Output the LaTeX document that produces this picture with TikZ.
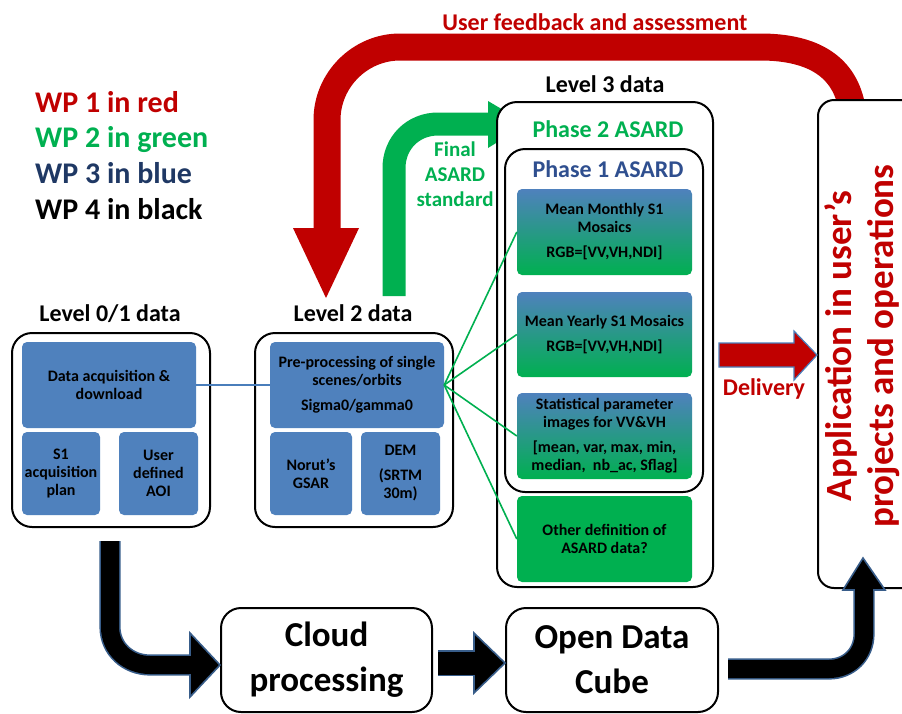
\documentclass[tikz,border=0pt]{standalone}
\usepackage{fontspec}
\setmainfont{Carlito}
\usetikzlibrary{calc,shadings}

\definecolor{wpred}{HTML}{C00000}
\definecolor{wpgreen}{HTML}{00B050}
\definecolor{wpnavy}{HTML}{1F3864}
\definecolor{phaseblue}{HTML}{2F4F8F}
\definecolor{boxblue}{HTML}{4F81BD}
\definecolor{linkblue}{HTML}{4A7EBB}
\definecolor{arrowedge}{HTML}{385D8A}

\newcommand{\mysz}[2]{\fontsize{#1}{#2}\selectfont\bfseries}

\begin{document}
\begin{tikzpicture}[x=1pt,y=-1pt,
  group/.style={draw=black, line width=2pt, rounded corners=20pt, fill=white},
  bluebox/.style={fill=boxblue, rounded corners=5pt, align=center, inner sep=2pt, font=\mysz{16}{18}},
  gradbox/.style={top color=boxblue, bottom color=wpgreen, rounded corners=5pt, align=center, inner sep=2pt, font=\mysz{16}{18}},
  greenbox/.style={fill=wpgreen, rounded corners=5pt, align=center, inner sep=2pt, font=\mysz{16}{18}},
  lbl/.style={inner sep=0pt, font=\mysz{24}{28}},
  legend/.style={inner sep=0pt, anchor=base west, font=\mysz{30}{34}},
  bigbox/.style={draw=black, line width=2pt, rounded corners=20pt, fill=white, align=center, font=\mysz{35}{45}},
  fanline/.style={draw=wpgreen, line width=1.6pt},
  blackshaft/.style={draw=arrowedge, line width=1.6pt, double=black, double distance=#1},
  blackhead/.style={fill=black, draw=arrowedge, line width=1.6pt, line join=miter}
]
\useasboundingbox (0,0) rectangle (902,713);
\clip (0,0) rectangle (902,713);

% ---------- legend ----------
\node[legend, text=wpred]   (wp1) at (35,112) {WP 1 in red};
\node[legend, text=wpgreen] (wp2) at (35,147) {WP 2 in green};
\node[legend, text=wpnavy]  (wp3) at (35,183) {WP 3 in blue};
\node[legend, text=black]   (wp4) at (35,219) {WP 4 in black};

% ---------- user feedback loop (drawn before the application box) ----------
\node[lbl, anchor=base, text=wpred] (fbtext) at (595,30) {User feedback and assessment};
\coordinate (fbstart) at (852,108);
\coordinate (fbtip) at (326,298);
\draw[wpred, line width=27pt] (fbstart) .. controls (845,68) and (815,47) .. (760,47)
  -- (400,47) .. controls (360,47) and (327,80) .. (327,120) -- (327,229);
\fill[wpred] (293,228) -- (fbtip) -- (359,228) -- cycle;

% ---------- level 0/1 ----------
\node[lbl, anchor=base] (lab01) at (110,321) {Level 0/1 data};
\node[group, minimum width=198, minimum height=194] (lvl01) at (111,430) {};
\node[bluebox, minimum width=174, minimum height=86] (acq) at (109,385) {Data acquisition \&\\download};
\node[bluebox, minimum width=78, minimum height=83] (plan) at (61,473.5) {S1\\acquisition\\plan};
\node[bluebox, minimum width=79, minimum height=83] (aoi) at (158.5,473.5) {User\\defined\\AOI};

% ---------- level 2 ----------
\node[lbl, anchor=base] (lab2) at (353,321) {Level 2 data};
\node[group, minimum width=198, minimum height=194] (lvl2) at (354,430) {};
\node[bluebox, minimum width=174, minimum height=86] (pre) at (357,385) {Pre-processing of single\\scenes/orbits\\[7pt]Sigma0/gamma0};
\node[bluebox, minimum width=82, minimum height=83] (gsar) at (311,473.5) {Norut’s\\GSAR};
\node[bluebox, minimum width=79, minimum height=83] (dem) at (400.5,473.5) {DEM\\[7pt](SRTM\\30m)};

\draw[linkblue, line width=1.6pt] (acq.east) -- (pre.west);

% ---------- final ASARD standard arrow ----------
\coordinate (gstart) at (394,296);
\coordinate (gtip) at (527,124);
\draw[wpgreen, line width=23pt] (gstart) -- (394,168) .. controls (394,143) and (413,124) .. (438,124) -- (489,124);
\fill[wpgreen] (488,101) -- (gtip) -- (488,148) -- cycle;
\node[inner sep=0pt, align=center, text=wpgreen, font=\mysz{21}{25}] (final) at (455,174) {Final\\ASARD\\standard};

% ---------- level 3 ----------
\node[lbl, anchor=base] (lab3) at (605,92) {Level 3 data};
\node[group, minimum width=216, minimum height=485] (lvl3) at (605,344.5) {};
\node[lbl, anchor=base, text=wpgreen] (ph2) at (608,137) {Phase 2 ASARD};
\node[group, minimum width=198, minimum height=343] (phase1) at (604,320.5) {};
\node[lbl, anchor=base, text=phaseblue] (ph1) at (608,177) {Phase 1 ASARD};

\node[gradbox, minimum width=175, minimum height=86] (monthly) at (604.5,232) {Mean Monthly S1\\Mosaics\\[7pt]RGB=[VV,VH,NDI]};
\node[gradbox, minimum width=175, minimum height=85] (yearly) at (604.5,334.5) {Mean Yearly S1 Mosaics\\[7pt]RGB=[VV,VH,NDI]};
\node[gradbox, minimum width=175, minimum height=86] (stats) at (604.5,436) {Statistical parameter\\images for VV\&VH\\[7pt]{[}mean, var, max, min,\\median,\ \ nb\_ac, Sflag{]}};
\node[greenbox, minimum width=175, minimum height=86] (other) at (604.5,539) {Other definition of\\ASARD data?};

\draw[fanline] (pre.east) -- (monthly.west);
\draw[fanline] (pre.east) -- (yearly.west);
\draw[fanline] (pre.east) -- (stats.west);
\draw[fanline] (pre.east) -- (other.west);

% ---------- application box ----------
\node[draw=black, line width=2pt, rounded corners=16pt, fill=white, minimum width=102, minimum height=488] (app) at (869,344) {};
\node[rotate=90, inner sep=0pt, align=center, text=wpred, font=\mysz{37}{42}] (apptext) at (862,346) {Application in user’s\\projects and operations};

% ---------- delivery arrow ----------
\coordinate (ds) at ($(lvl3.east)+(5,10.5)$);
\coordinate (dt) at ($(app.west)+(0,11)$);
\fill[wpred, draw=linkblue, line width=1.2pt, line join=miter]
  (ds) ++(0,-12) -- ($(dt)+(-23,-12)$) -- ($(dt)+(-23,-24)$) -- (dt)
  -- ($(dt)+(-23,25)$) -- ($(dt)+(-23,12)$) -- ($(ds)+(0,12)$) -- cycle;
\node[lbl, anchor=base, text=wpred] (deliv) at (764,395) {Delivery};

% ---------- cloud processing chain ----------
\node[bigbox, minimum width=211, minimum height=104] (cloud) at (326.5,660) {Cloud\\processing};
\node[bigbox, minimum width=212, minimum height=104] (odc) at (612,660) {Open Data\\Cube};

% level 0/1 -> cloud processing
\coordinate (a1s) at ($(lvl01.south)+(-1,13)$);
\coordinate (a1t) at ($(cloud.west)+(0,5)$);
\draw[blackshaft=18pt] (a1s) -- (110,627) .. controls (110,649) and (128,665) .. (150,665) -- (191,665);
\draw[blackhead] (190,633) -- (a1t) -- (190,697) -- cycle;
\draw[black, line width=18pt] (186,665) -- (194,665);

% cloud processing -> open data cube
\coordinate (a2s) at ($(cloud.east)+(5,3)$);
\coordinate (a2t) at ($(odc.west)+(0,3)$);
\draw[blackshaft=23pt] (a2s) -- (475,663);
\draw[blackhead] (474,633) -- (a2t) -- (474,693) -- cycle;
\draw[black, line width=23pt] (471,663) -- (478,663);

% open data cube -> application
\coordinate (a3s) at ($(odc.east)+(9,9)$);
\coordinate (a3t) at ($(app.south west)+(46,-31)$);
\draw[blackshaft=18pt] (a3s) -- (829,669) .. controls (849,669) and (864,654) .. (864,634) -- (864,589);
\draw[blackhead] (843,590) -- (a3t) -- (885,590) -- cycle;
\draw[black, line width=18pt] (864,593) -- (864,586);

\end{tikzpicture}
\end{document}
